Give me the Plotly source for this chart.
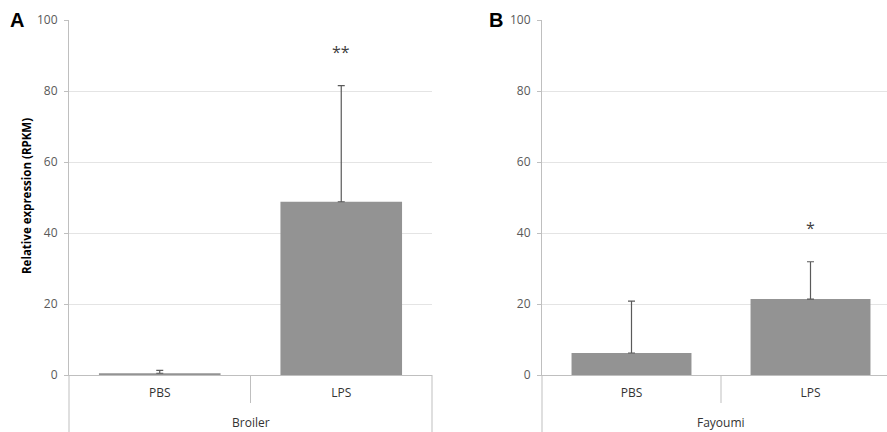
import plotly.graph_objects as go

categories = ["PBS", "LPS"]
broiler_values = [0.5, 48.8]
broiler_errors = [0.8, 32.7]
fayoumi_values = [6.2, 21.4]
fayoumi_errors = [14.6, 10.5]
broiler_sig = ["", "**"]
fayoumi_sig = ["", "*"]
group_labels = ["Broiler", "Fayoumi"]
panel_labels = ["A", "B"]
y_ticks = [0, 20, 40, 60, 80, 100]
y_title = "Relative expression (RPKM)"

W, H = 887, 432
ML, MR, MT, MB = 69, 0, 20, 57
PW = W - ML - MR
PH = H - MT - MB
FONT = "Open Sans"
BAR = "#939393"
ERR = "#5a5a5a"
AX = "#bfbfbf"
GRID = "#e4e4e4"
TXT = "#595959"

xpos = list(range(len(categories)))

fig = go.Figure()
for vals, errs, xa, ya in [(broiler_values, broiler_errors, "x", "y"),
                           (fayoumi_values, fayoumi_errors, "x2", "y2")]:
    fig.add_trace(go.Bar(
        x=xpos, y=vals, width=0.67, marker=dict(color=BAR, line=dict(width=0)),
        error_y=dict(type="data", array=errs, arrayminus=[0] * len(errs), symmetric=False,
                     color=ERR, thickness=1.2, width=3.5),
        xaxis=xa, yaxis=ya, showlegend=False, hoverinfo="skip"))

d1 = [0, (432 - ML) / PW]
d2 = [(542 - ML) / PW, 1]
# right panel extends past the image edge (cropped)
r2 = -0.5 + (W - 542) / 179.0

common_y = dict(range=[0, 100], tickvals=y_ticks, showgrid=True, gridcolor=GRID, gridwidth=1,
                showline=True, linecolor=AX, linewidth=1, ticks="outside", ticklen=4,
                tickcolor=AX, tickfont=dict(family=FONT, size=12, color=TXT), zeroline=False,
                fixedrange=True, ticklabelstandoff=4, automargin=False)
common_x = dict(tickvals=xpos, ticktext=categories, showline=True, linecolor=AX, linewidth=1,
                ticks="", showgrid=False, zeroline=False, automargin=False, fixedrange=True,
                tickfont=dict(family=FONT, size=12, color="#333333"), ticklabelstandoff=7)

fig.update_layout(
    template="none",
    width=W, height=H, margin=dict(l=ML, r=MR, t=MT, b=MB, autoexpand=False),
    paper_bgcolor="white", plot_bgcolor="white",
    xaxis=dict(domain=d1, range=[-0.5, 1.5], anchor="y", **common_x),
    yaxis=dict(domain=[0, 1], anchor="x", **common_y),
    xaxis2=dict(domain=d2, range=[-0.5, r2], anchor="y2", **common_x),
    yaxis2=dict(domain=[0, 1], anchor="x2", **common_y),
)

shapes = []
annotations = []
for xr, r_end in [("x", True), ("x2", False)]:
    dref = xr + " domain"
    shapes.append(dict(type="line", xref=dref, yref="paper", x0=0, x1=0,
                       y0=0, y1=-MB / PH, line=dict(color=AX, width=1)))
    if r_end:
        shapes.append(dict(type="line", xref=dref, yref="paper", x0=1, x1=1,
                           y0=0, y1=-MB / PH, line=dict(color=AX, width=1)))
    shapes.append(dict(type="line", xref=xr, yref="paper", x0=0.5, x1=0.5,
                       y0=0, y1=-28 / PH, line=dict(color=AX, width=1)))

for xr, g in [("x", group_labels[0]), ("x2", group_labels[1])]:
    annotations.append(dict(text=g, x=0.5, xref=xr, y=0, yref="paper", yanchor="middle",
                            yshift=-47, showarrow=False,
                            font=dict(family=FONT, size=12, color="#333333")))

for xr, yr, vals, errs, sig in [("x", "y", broiler_values, broiler_errors, broiler_sig),
                                ("x2", "y2", fayoumi_values, fayoumi_errors, fayoumi_sig)]:
    for i, s in enumerate(sig):
        if s:
            annotations.append(dict(text=s, x=xpos[i], xref=xr, y=vals[i] + errs[i], yref=yr,
                                    yanchor="middle", yshift=34, showarrow=False,
                                    font=dict(family=FONT, size=16, color="#404040")))


def px2paper(px, py):
    return (px - ML) / PW, (H - MB - py) / PH


for lab, (px, py) in zip(panel_labels, [(17, 20), (496, 20)]):
    x, y = px2paper(px, py)
    annotations.append(dict(text="<b>" + lab + "</b>", x=x, y=y, xref="paper", yref="paper",
                            xanchor="center", yanchor="middle", showarrow=False,
                            font=dict(family="Liberation Sans", size=20, color="black")))
x, y = px2paper(26, 196)
annotations.append(dict(text="<b>" + y_title + "</b>", x=x, y=y, xref="paper", yref="paper",
                        xanchor="center", yanchor="middle", textangle=-90, showarrow=False,
                        font=dict(family=FONT, size=11.5, color="black")))

fig.update_layout(shapes=shapes, annotations=annotations)
fig.write_html("out.html", config={"displayModeBar": False, "staticPlot": True},
               post_script="document.body.style.margin='0';document.body.style.overflow='hidden';")
